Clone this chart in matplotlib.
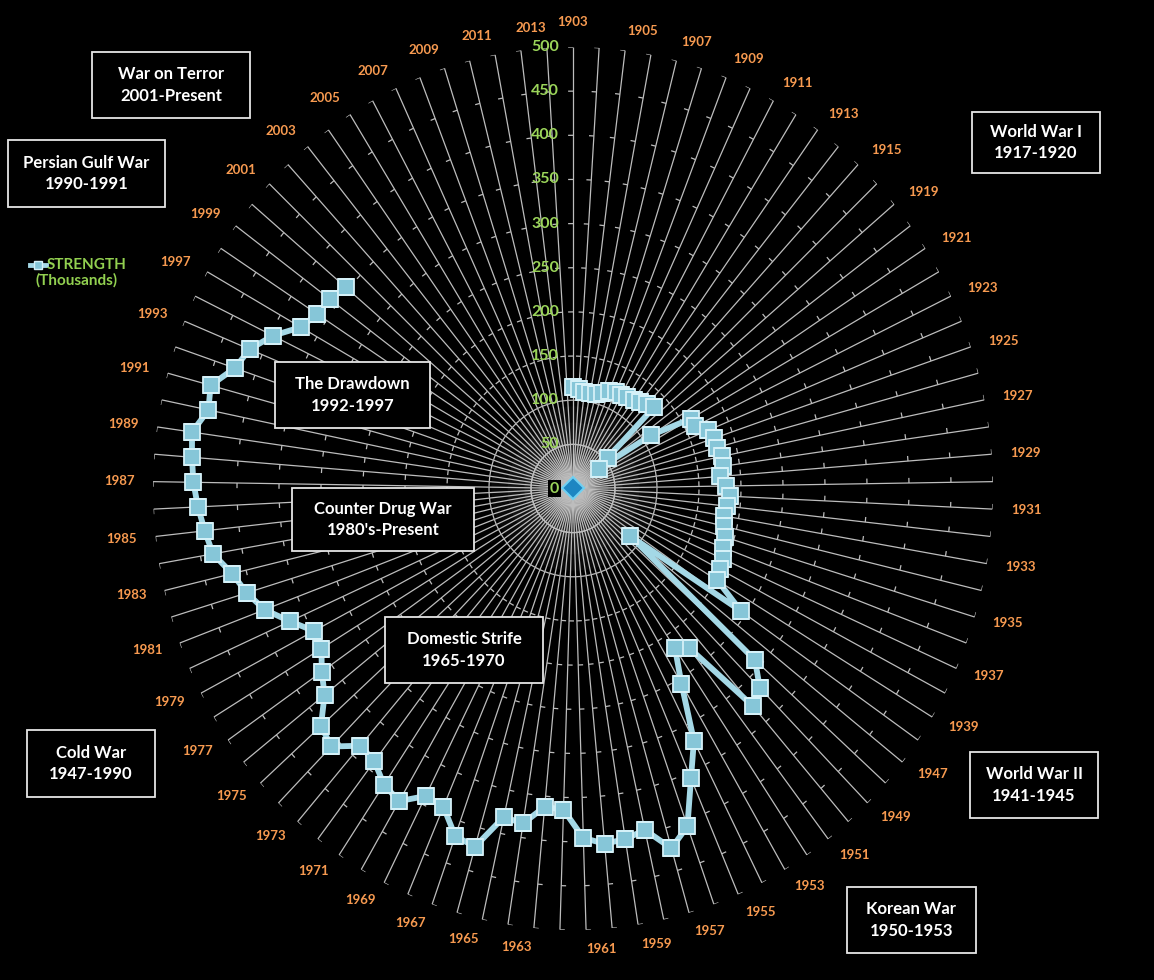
import numpy as np
import matplotlib
matplotlib.use("Agg")
import matplotlib.pyplot as plt
from matplotlib.collections import LineCollection
from matplotlib.patches import Rectangle
from matplotlib.lines import Line2D

# ---------------- data ----------------
years = ([str(y) for y in range(1903, 1917)] + [str(y) for y in range(1919, 1941)]
         + [str(y) for y in range(1947, 1994)] + ["1995"] + [str(y) for y in range(1997, 2014)])

strength_1903_1916 = [115, 113, 110, 110, 110, 114, 118, 120, 120, 122, 124, 127, 130, 133]
strength_1919_1940 = [54, 38, 111, 161, 162, 174, 177, 177, 181, 180, 176, 182, 187, 185,
                      183, 185, 189, 191, 195, 197, 201, 243]
strength_1947_1960 = [87, 291, 317, 326, 227, 218, 256, 320, 357, 406, 424, 396, 402, 404]
strength_1961_1980 = [396, 364, 362, 384, 381, 422, 418, 392, 390, 410, 404, 389, 386, 410,
                      403, 377, 364, 350, 348, 369]
strength_1981_2013 = [392, 406, 417, 435, 441, 447, 452, 455, 458, 443, 447, 425, 416,
                      397, 372, 363, 360, 354] + [None] * 13

strength = (strength_1903_1916 + strength_1919_1940 + strength_1947_1960
            + strength_1961_1980 + strength_1981_2013)

value_ticks = list(range(0, 501, 50))

era_boxes = [
    ("War on Terror\n2001-Present", 92, 52, 250, 118),
    ("Persian Gulf War\n1990-1991", 8, 140, 165, 207),
    ("World War I\n1917-1920", 972, 112, 1100, 173),
    ("The Drawdown\n1992-1997", 275, 362, 430, 428),
    ("Counter Drug War\n1980's-Present", 292, 488, 474, 551),
    ("Domestic Strife\n1965-1970", 385, 617, 543, 683),
    ("Cold War\n1947-1990", 27, 730, 155, 797),
    ("World War II\n1941-1945", 970, 752, 1098, 818),
    ("Korean War\n1950-1953", 847, 887, 976, 953),
]

# ---------------- figure ----------------
W, H = 1154, 980
plt.rcParams["font.family"] = ["Lato", "DejaVu Sans"]
fig = plt.figure(figsize=(W / 100, H / 100), dpi=100, facecolor="black")

cx, cy, rx, ry = 573, 488.5, 420, 441.5
ax = fig.add_axes([(cx - rx) / W, (H - cy - ry) / H, 2 * rx / W, 2 * ry / H], projection="polar")
ax.set_aspect("auto")
ax.set_facecolor("black")
ax.patch.set_alpha(0)
ax.set_theta_zero_location("N")
ax.set_theta_direction(-1)
ax.set_ylim(0, 500)
ax.grid(False)
ax.set_xticks([])
ax.set_yticks([])
ax.spines["polar"].set_visible(False)

N = len(years)
theta = np.arange(N) * 2 * np.pi / N
vals = np.array([np.nan if v is None else v for v in strength], dtype=float)

# center glow
for s, a in [(14000, 0.05), (9000, 0.06), (5000, 0.08), (2500, 0.1), (1000, 0.12)]:
    ax.scatter([0], [0], s=s, color="#BBBBBB", alpha=a, lw=0, zorder=1)

# spokes
ax.vlines(theta, 0, 500, color="#BDBDBD", lw=0.9, zorder=2)

# tick marks on each spoke (counter-clockwise side)
px_per_unit = (rx + ry) / 2 / 500
segs = []
for t in theta:
    for r in value_ticks[1:]:
        d = 5.0 / (r * px_per_unit)
        segs.append([(t - d, r), (t, r)])
ax.add_collection(LineCollection(segs, colors="#BDBDBD", linewidths=0.9, zorder=2))

# data line
ax.plot(theta, vals, color="#A4D8E6", lw=4.2, zorder=5, solid_joinstyle="round")
ax.plot(theta, vals, ls="none", marker="s", ms=11, mfc="#86C6D8", mec="#D5F1F8", mew=1.3, zorder=6)

# center point
ax.plot([0], [0], marker="D", ms=11, mfc="#1D86C2", mec="#6FD0F2", mew=1.5, zorder=7)

# value labels
for v in value_ticks:
    ax.annotate(str(v), xy=(0, v), xytext=(-14, 0), textcoords="offset pixels",
                ha="right", va="center", color="#9BD55A", fontsize=11.5, fontweight="bold",
                zorder=8,
                bbox=dict(boxstyle="square,pad=0.1", fc="black", ec="none") if v == 0 else None)

# category labels (every other)
for i, t in enumerate(theta):
    if i % 2 == 0:
        s = np.sin(t)
        ha = "left" if s > 1e-6 else ("right" if s < -1e-6 else "center")
        va = "bottom" if i == 0 else "center"
        ax.text(t, 522, years[i], ha=ha, va=va, color="#F79A50",
                fontsize=9.5, fontweight="bold", zorder=8)

# era boxes
for txt, x0, y0, x1, y1 in era_boxes:
    fig.patches.append(Rectangle((x0 / W, 1 - y1 / H), (x1 - x0) / W, (y1 - y0) / H,
                                 transform=fig.transFigure, fc="black", ec="#E6E6E6", lw=1.3))
    fig.text((x0 + x1) / 2 / W, 1 - (y0 + y1) / 2 / H, txt, ha="center", va="center",
             color="white", fontsize=12, fontweight="bold", linespacing=1.45)

# legend
fig.lines.append(Line2D([30 / W, 46 / W], [1 - 265 / H] * 2, transform=fig.transFigure,
                        color="#A4D8E6", lw=3.5))
fig.lines.append(Line2D([38 / W], [1 - 265 / H], transform=fig.transFigure, ls="none",
                        marker="s", ms=6, mfc="#86C6D8", mec="#D5F1F8"))
fig.text(47 / W, 1 - 265 / H, "STRENGTH", ha="left", va="center", color="#92D050",
         fontsize=11, fontweight="bold")
fig.text(35 / W, 1 - 280 / H, "(Thousands)", ha="left", va="center", color="#92D050",
         fontsize=11, fontweight="bold")

fig.savefig("out.png", dpi=100, facecolor="black")
